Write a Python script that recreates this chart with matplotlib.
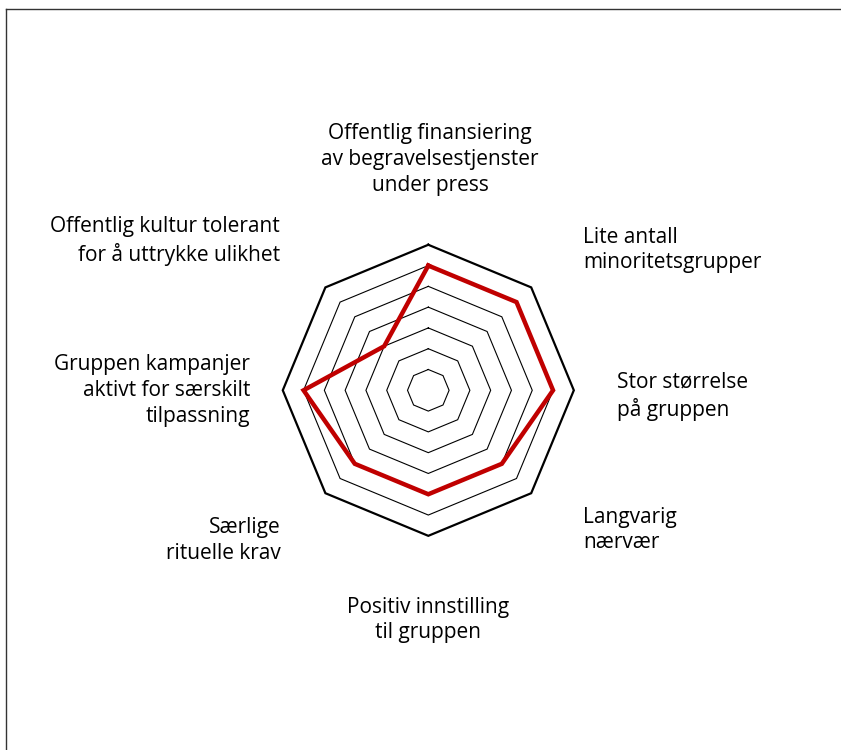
import numpy as np
import matplotlib
matplotlib.use("Agg")
import matplotlib.pyplot as plt
from matplotlib.lines import Line2D

categories = [
    "Offentlig finansiering\nav begravelsestjenster\nunder press",
    "Lite antall\nminoritetsgrupper",
    "Stor størrelse\npå gruppen",
    "Langvarig\nnærvær",
    "Positiv innstilling\ntil gruppen",
    "Særlige\nrituelle krav",
    "Gruppen kampanjer\naktivt for særskilt\ntilpassning",
    "Offentlig kultur tolerant\nfor å uttrykke ulikhet",
]
values = [6, 6, 6, 5, 5, 5, 6, 3]
levels = [1, 2, 3, 4, 5, 6, 7]
rmax = 7

fig = plt.figure(figsize=(8.41, 7.5), dpi=100)
ax = fig.add_axes([0, 0, 1, 1])
ax.set_aspect("equal")
cx, cy, unit = 428.3, 390.3, 20.79
ax.set_xlim(-cx / unit, (841 - cx) / unit)
ax.set_ylim(-(750 - cy) / unit, cy / unit)
ax.axis("off")

n = len(categories)
theta = np.arange(n) * 2 * np.pi / n
tc = np.append(theta, theta[0])

for lv in levels:
    r = np.full(n + 1, lv)
    ax.plot(r * np.sin(tc), r * np.cos(tc), color="black",
            lw=1.6 if lv == rmax else 0.8, solid_joinstyle="miter", zorder=2)

v = np.append(values, values[0])
ax.plot(v * np.sin(tc), v * np.cos(tc), color="#c00000", lw=3.2,
        solid_joinstyle="miter", zorder=3)

label_pos = [
    (0.08, 11.1, "center"),
    (7.44, 6.75, "left"),
    (9.07, -0.30, "left"),
    (7.44, -6.72, "left"),
    (0.0, -11.05, "center"),
    (-7.09, -7.22, "right"),
    (-8.58, 0.0, "right"),
    (-7.13, 7.19, "right"),
]
for lab, (x, y, ha) in zip(categories, label_pos):
    ax.text(x, y, lab, ha=ha, va="center", multialignment=ha,
            fontsize=15, family="Open Sans", color="black", linespacing=1.3)

fig.add_artist(Line2D([6 / 841, 1], [1 - 9 / 750, 1 - 9 / 750],
                      transform=fig.transFigure, color="#333333", lw=1))
fig.add_artist(Line2D([6 / 841, 6 / 841], [0, 1 - 9 / 750],
                      transform=fig.transFigure, color="#333333", lw=1))

fig.savefig("out.png", dpi=100, facecolor="white")
